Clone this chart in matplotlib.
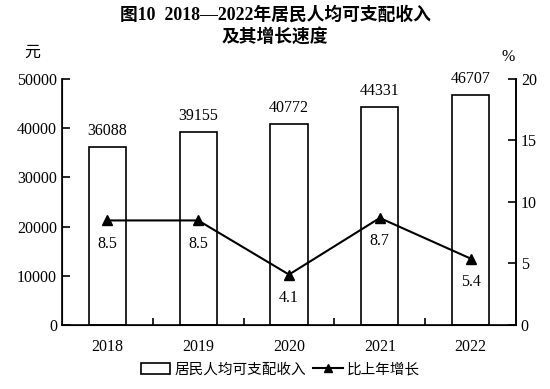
import matplotlib
matplotlib.use("Agg")
import matplotlib.pyplot as plt
from matplotlib.patches import Patch
from matplotlib.lines import Line2D

plt.rcParams['font.family'] = ['Liberation Serif', 'Noto Sans CJK SC']

years = ['2018', '2019', '2020', '2021', '2022']
income = [36088, 39155, 40772, 44331, 46707]
growth = [8.5, 8.5, 4.1, 8.7, 5.4]

fig = plt.figure(figsize=(5.5, 3.89), dpi=100)
ax = fig.add_axes([0.1127, 0.1645, 0.8255, 0.6325])
x = list(range(len(years)))

ax.bar(x, income, width=0.41, facecolor='white', edgecolor='black', linewidth=1.2, zorder=2)
for xi, v in zip(x, income):
    ax.annotate(str(v), (xi, v), xytext=(0, 6), textcoords='offset points',
                ha='center', va='bottom', fontsize=11.5)

ax.set_xlim(-0.5, 4.5)
ax.set_ylim(0, 50000)
ax.set_yticks(range(0, 50001, 10000))
ax.set_xticks(x)
ax.set_xticklabels(years, fontsize=11.5)
ax.set_xticks([i + 0.5 for i in x[:-1]], minor=True)
ax.tick_params(axis='x', which='major', length=0, pad=10)
ax.tick_params(axis='x', which='minor', direction='in', length=5, width=1.2)
ax.tick_params(axis='y', direction='in', length=6, width=1.2, labelsize=11.5)
ax.spines['top'].set_visible(False)
for s in ['left', 'bottom', 'right']:
    ax.spines[s].set_linewidth(1.2)

ax2 = ax.twinx()
ax2.plot(x, growth, color='black', linewidth=1.5, marker='^', markersize=7, zorder=3)
for xi, v in zip(x, growth):
    ax2.annotate(str(v), (xi, v), xytext=(0, -11), textcoords='offset points',
                 ha='center', va='top', fontsize=11.5)
ax2.set_ylim(0, 20)
ax2.set_yticks(range(0, 21, 5))
ax2.tick_params(axis='y', direction='in', length=6, width=1.2, labelsize=11.5)
ax2.spines['top'].set_visible(False)
ax2.spines['right'].set_linewidth(1.2)

fig.text(0.5, 0.961, '图10  2018—2022年居民人均可支配收入', ha='center', va='center',
         fontsize=12.8, fontweight='bold')
fig.text(0.5, 0.905, '及其增长速度', ha='center', va='center',
         fontsize=12.8, fontweight='bold')
fig.text(0.058, 0.866, '元', ha='center', va='center', fontsize=11.5,
         family=['Noto Sans CJK SC'])
fig.text(0.924, 0.853, '%', ha='center', va='center', fontsize=11.5)

handles = [Patch(facecolor='white', edgecolor='black', linewidth=1.2),
           Line2D([], [], color='black', linewidth=1.5, marker='^', markersize=6)]
fig.legend(handles, ['居民人均可支配收入', '比上年增长'], loc='center',
           bbox_to_anchor=(0.51, 0.05), ncol=2, frameon=False,
           prop={'family': 'Noto Sans CJK SC', 'size': 10.5},
           handlelength=2.0, handletextpad=0.3, columnspacing=0.5)

fig.savefig('out.png', dpi=100)
